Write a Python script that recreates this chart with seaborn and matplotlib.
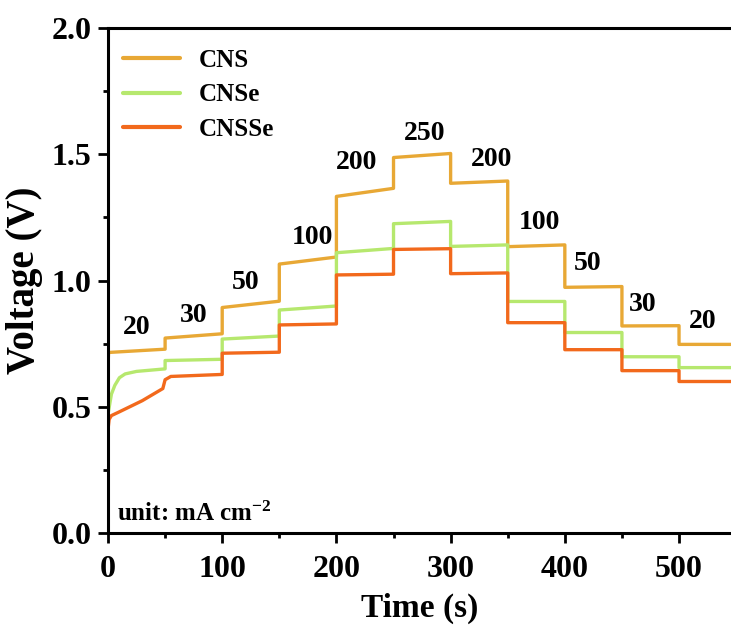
import numpy as np
import pandas as pd
import matplotlib
matplotlib.use("Agg")
import matplotlib.pyplot as plt
import seaborn as sns
from matplotlib.ticker import MultipleLocator

# ---- data ----
cns_t = [0, 0.5, 50, 50, 100, 100, 150, 150, 200, 200, 250, 250, 300, 300,
         350, 350, 400, 400, 450, 450, 500, 500, 550]
cns_v = [0.66, 0.715, 0.728, 0.772, 0.789, 0.893, 0.918, 1.065, 1.093, 1.333,
         1.365, 1.487, 1.503, 1.385, 1.394, 1.134, 1.141, 0.973, 0.976, 0.820,
         0.821, 0.747, 0.747]

cnse_t = [0, 3, 6, 10, 15, 25, 50, 50, 100, 100, 150, 150, 200, 200, 250, 250,
          300, 300, 350, 350, 400, 400, 450, 450, 500, 500, 550]
cnse_v = [0.47, 0.55, 0.585, 0.615, 0.63, 0.64, 0.65, 0.683, 0.688, 0.768,
          0.78, 0.883, 0.899, 1.11, 1.127, 1.225, 1.234, 1.135, 1.141, 0.917,
          0.917, 0.794, 0.794, 0.698, 0.698, 0.655, 0.655]

cnsse_t = [0, 1, 3, 10, 30, 48, 50, 55, 100, 100, 150, 150, 200, 200, 250, 250,
           300, 300, 350, 350, 400, 400, 450, 450, 500, 500, 550]
cnsse_v = [0.41, 0.45, 0.465, 0.48, 0.524, 0.572, 0.607, 0.62, 0.628, 0.712,
           0.716, 0.824, 0.828, 1.022, 1.025, 1.123, 1.126, 1.027, 1.03, 0.833,
           0.833, 0.726, 0.726, 0.643, 0.643, 0.6, 0.6]

series_names = ["CNS", "CNSe", "CNSSe"]
series_colors = ["#E8A835", "#B6E86E", "#F2691C"]

step_labels = ["20", "30", "50", "100", "200", "250", "200", "100", "50", "30", "20"]
step_label_t = [25.4, 75.3, 120.8, 178.6, 218, 277.6, 336, 378, 420, 468.5, 521]
step_label_v = [0.812, 0.863, 0.994, 1.172, 1.469, 1.584, 1.481, 1.228, 1.069, 0.903, 0.836]

frames = []
for name, t, v in [("CNS", cns_t, cns_v), ("CNSe", cnse_t, cnse_v), ("CNSSe", cnsse_t, cnsse_v)]:
    frames.append(pd.DataFrame({"Time": t, "Voltage": v, "Sample": name}))
df = pd.concat(frames, ignore_index=True)

# ---- style ----
sns.set_theme(style="ticks")
plt.rcParams["font.family"] = ["Liberation Serif", "DejaVu Serif"]
plt.rcParams["font.weight"] = "bold"
plt.rcParams["text.color"] = "black"
plt.rcParams["axes.labelcolor"] = "black"
plt.rcParams["xtick.color"] = "black"
plt.rcParams["ytick.color"] = "black"
plt.rcParams["mathtext.fontset"] = "custom"
plt.rcParams["mathtext.rm"] = "Liberation Serif:bold"
plt.rcParams["mathtext.bf"] = "Liberation Serif:bold"
plt.rcParams["mathtext.default"] = "rm"

fig = plt.figure(figsize=(7.31, 6.26), dpi=100)
ax = fig.add_axes([108 / 731, 93 / 626, (731 - 108) / 731, (533 - 28) / 626])

sns.lineplot(data=df, x="Time", y="Voltage", hue="Sample", hue_order=series_names,
             palette=series_colors, sort=False, estimator=None,
             linewidth=2.4, ax=ax, legend=True)

ax.set_xlim(0, 545.5)
ax.set_ylim(0, 2.0)
ax.xaxis.set_minor_locator(MultipleLocator(50))
ax.yaxis.set_minor_locator(MultipleLocator(0.25))
ax.set_yticks([0, 0.5, 1.0, 1.5, 2.0])
ax.set_yticklabels(["0.0", "0.5", "1.0", "1.5", "2.0"])
ax.set_xticks([0, 100, 200, 300, 400, 500])
ax.set_xticklabels(["0", "100", "200", "300", "400", "500"])

for side in ["left", "bottom", "top"]:
    ax.spines[side].set_linewidth(2.2)
    ax.spines[side].set_color("black")
ax.spines["right"].set_visible(False)

ax.tick_params(axis="both", which="major", direction="out", length=7, width=2,
               labelsize=23, colors="black")
ax.tick_params(axis="x", which="major", pad=9)
ax.tick_params(axis="y", which="major", pad=5)
ax.tick_params(axis="both", which="minor", direction="out", length=3.5, width=2,
               colors="black")
for lab in ax.get_xticklabels() + ax.get_yticklabels():
    lab.set_fontweight("bold")

ax.set_xlabel("Time (s)", fontsize=24, fontweight="bold", labelpad=6, color="black")
ax.set_ylabel("Voltage (V)", fontsize=28, fontweight="bold", labelpad=6, color="black")

for s, t, v in zip(step_labels, step_label_t, step_label_v):
    ax.text(t, v, s, ha="center", va="center", fontsize=20, fontweight="bold",
            color="black")

ax.text(8, 0.075, "unit: mA cm$^{-2}$", ha="left", va="center", fontsize=18,
        fontweight="bold", color="black")

handles, labels = ax.get_legend_handles_labels()
leg = ax.legend(handles, labels, loc="upper left", frameon=False, fontsize=18,
                handlelength=2.3, handletextpad=0.72, labelspacing=0.45,
                borderaxespad=0.0, borderpad=0.3, bbox_to_anchor=(0.012, 0.973))
for h in leg.get_lines():
    h.set_linewidth(3.0)
for t in leg.get_texts():
    t.set_fontweight("bold")
    t.set_color("black")

fig.savefig("out.png", dpi=100)
